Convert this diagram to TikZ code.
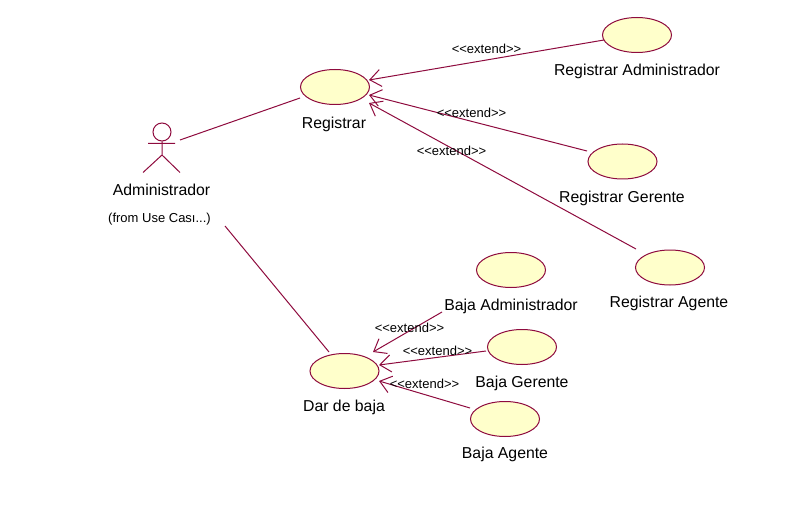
\documentclass[tikz,border=0pt]{standalone}
\usepackage{fontspec}
\setmainfont{Liberation Sans}
\usetikzlibrary{arrows.meta,shapes.geometric}
\definecolor{umlline}{HTML}{8E0B3E}
\definecolor{umlfill}{HTML}{FFFFCB}
\tikzset{
  usecase/.style={ellipse,draw=umlline,fill=umlfill,line width=1pt,minimum width=69pt,minimum height=35pt,inner sep=0pt},
  conn/.style={draw=umlline,line width=1pt},
  ext/.style={conn,-{Straight Barb[length=11pt,width=17pt,line width=1pt]}},
  lab/.style={font=\fontsize{15.8pt}{17pt}\selectfont,text=black,inner sep=0pt},
  stereo/.style={font=\fontsize{13pt}{14pt}\selectfont,text=black,inner sep=0pt},
}
\begin{document}
\begin{tikzpicture}[x=1pt,y=-1pt]
\useasboundingbox (0,0) rectangle (811,505);
% use cases
\node[usecase] (reg) at (335,87) {};
\node[usecase] (regadm) at (637,35) {};
\node[usecase] (reggte) at (622.5,161.5) {};
\node[usecase] (regage) at (670,267.5) {};
\node[usecase] (bajaadm) at (511,270) {};
\node[usecase] (bajagte) at (522,347) {};
\node[usecase] (bajaage) at (505,419) {};
\node[usecase] (dar) at (344.5,371) {};
% labels
\node[lab] (lreg) at (334,124) {Registrar};
\node[lab] (lregadm) at (637,71) {Registrar Administrador};
\node[lab] (lreggte) at (622,198) {Registrar Gerente};
\node[lab] (lregage) at (669,303) {Registrar Agente};
\node[lab] (lbajaadm) at (511,306) {Baja Administrador};
\node[lab] (lbajagte) at (522,383) {Baja Gerente};
\node[lab] (lbajaage) at (505,454) {Baja Agente};
\node[lab] (ldar) at (344,407) {Dar de baja};
\node[lab] (ladm) at (161.5,189.5) {Administrador};
\node[stereo] (lfrom) at (159.5,219.5) {(from Use Cası...)};
% actor
\node[circle,draw=umlline,line width=1pt,minimum size=18pt,inner sep=0pt] (head) at (162,132) {};
\coordinate (hip) at (162,155);
\coordinate (arml) at (148,143.5);
\coordinate (armr) at (175,143.5);
\coordinate (legl) at (143,172.5);
\coordinate (legr) at (180,172.5);
\draw[conn] (head.south) -- (hip) (arml) -- (armr) (legl) -- (hip) -- (legr);
% connector ends
\coordinate (a1) at (180,140);
\coordinate (a2) at (300,98);
\coordinate (a3) at (225,226);
\coordinate (a4) at (329,352);
\coordinate (e1s) at (604,40);
\coordinate (e1t) at (369,80);
\coordinate (e2s) at (587,151);
\coordinate (e2t) at (369,95);
\coordinate (e3s) at (636,249);
\coordinate (e3t) at (369,103);
\coordinate (e4s) at (442,312);
\coordinate (e4t) at (373,352);
\coordinate (e5s) at (486,351);
\coordinate (e5t) at (379,365);
\coordinate (e6s) at (470,408);
\coordinate (e6t) at (379,381);
\draw[conn] (a1) -- (a2);
\draw[conn] (a3) -- (a4);
\draw[ext] (e1s) -- (e1t);
\draw[ext] (e2s) -- (e2t);
\draw[ext] (e3s) -- (e3t);
\draw[ext] (e4s) -- (e4t);
\draw[ext] (e5s) -- (e5t);
\draw[ext] (e6s) -- (e6t);
% stereotypes
\node[stereo] (s1) at (486.5,49) {<{}<extend>{}>};
\node[stereo] (s2) at (471.5,112.5) {<{}<extend>{}>};
\node[stereo] (s3) at (451.5,150.5) {<{}<extend>{}>};
\node[stereo] (s4) at (409.5,327.5) {<{}<extend>{}>};
\node[stereo] (s5) at (437.5,350.5) {<{}<extend>{}>};
\node[stereo] (s6) at (424.5,383.5) {<{}<extend>{}>};
\end{tikzpicture}
\end{document}
